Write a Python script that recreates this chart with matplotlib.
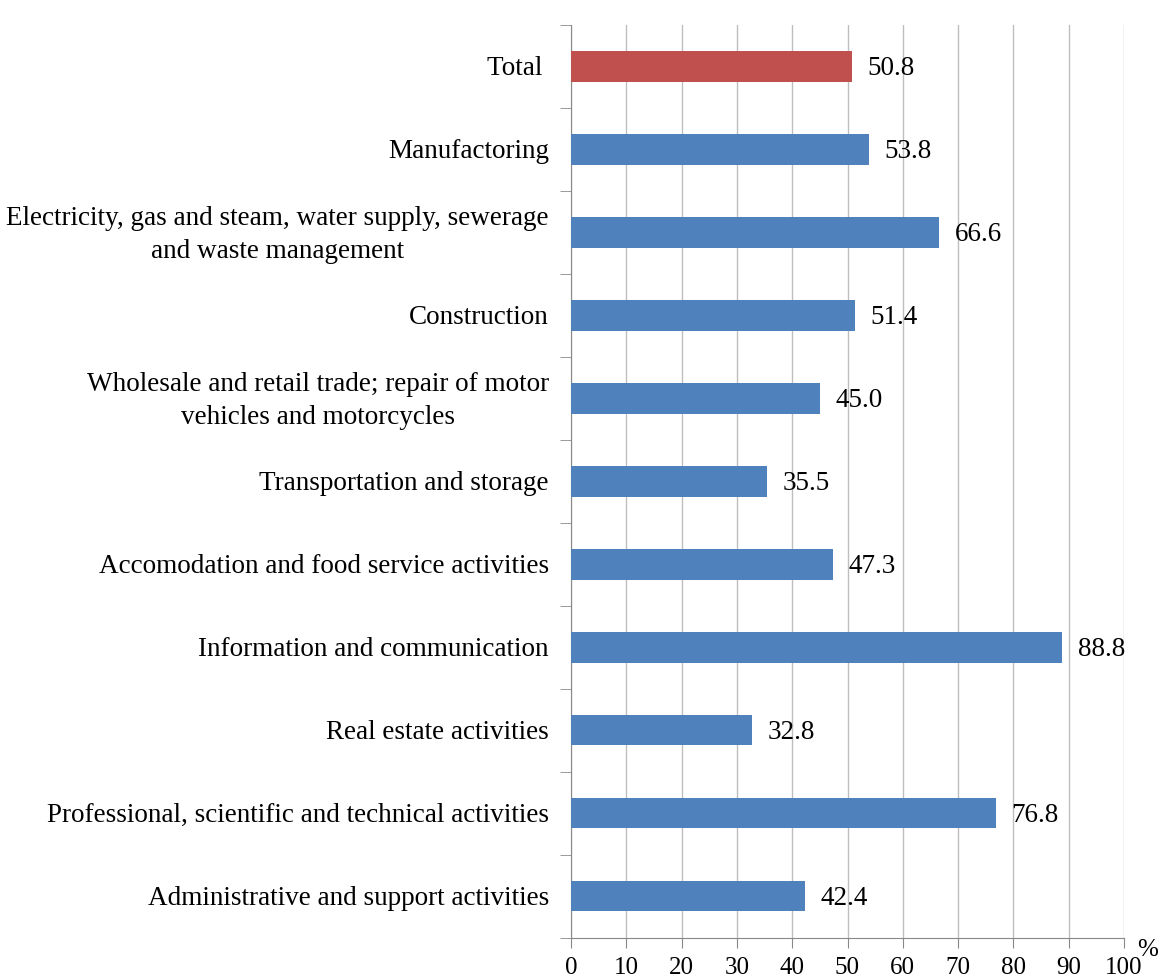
import numpy as np
import matplotlib.pyplot as plt

categories = [
    "Total ",
    "Manufactoring",
    "Electricity, gas and steam, water supply, sewerage\nand waste management",
    "Construction",
    "Wholesale and retail trade; repair of motor\nvehicles and motorcycles",
    "Transportation and storage",
    "Accomodation and food service activities",
    "Information and communication",
    "Real estate activities",
    "Professional, scientific and technical activities",
    "Administrative and support activities",
]
values = [50.8, 53.8, 66.6, 51.4, 45.0, 35.5, 47.3, 88.8, 32.8, 76.8, 42.4]
x_ticks = list(range(0, 101, 10))

plt.rcParams['font.family'] = ['Liberation Serif', 'DejaVu Serif']

fig = plt.figure(figsize=(11.61, 9.8), dpi=100)
ax = fig.add_axes([571 / 1161, 1 - 937.5 / 980, (1124 - 571) / 1161, (937.5 - 25) / 980])

n = len(categories)
pos = np.arange(n)
colors = ['#C0504D'] + ['#4F81BD'] * (n - 1)
ax.barh(pos, values, height=0.37, color=colors, zorder=3)

for p, v in zip(pos, values):
    ax.text(v + 2.8, p + 0.03, f"{v:.1f}", va='center', ha='left', fontsize=19.5, zorder=4)

ax.set_ylim(n - 0.5, -0.5)
ax.set_xlim(0, 100)
ax.set_xticks(x_ticks)
ax.set_xticklabels([str(t) for t in x_ticks], fontsize=18)
ax.tick_params(axis='x', direction='out', length=7, color='#888888', pad=7)

# category labels, ticks at the boundaries
ax.set_yticks(pos)
ax.set_yticklabels([])
ax.tick_params(axis='y', length=0)
ax.set_yticks(np.arange(-0.5, n, 1), minor=True)
ax.tick_params(axis='y', which='minor', direction='out', length=8, color='#888888')
for p, c in zip(pos, categories):
    ax.text(-4.0, p + 0.03, c, ha='right', va='center', multialignment='center',
            fontsize=19.5, linespacing=1.4)

ax.grid(axis='x', color='#BEBEBE', linewidth=1, zorder=0)
for s in ['top', 'right']:
    ax.spines[s].set_visible(False)
ax.spines['left'].set_color('#888888')
ax.spines['bottom'].set_color('#888888')

ax.text(1.043, -0.002, "%", transform=ax.transAxes, fontsize=18, ha='center', va='top')

fig.savefig('out.png', dpi=100)
